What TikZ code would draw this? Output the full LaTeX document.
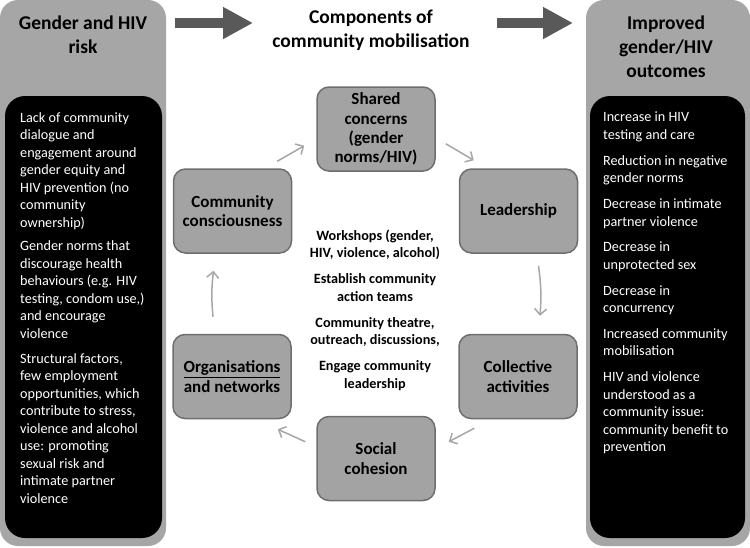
\documentclass[tikz,border=0pt]{standalone}
\usepackage{fontspec}
\setmainfont{Carlito}
\usetikzlibrary{arrows.meta,calc}
\definecolor{colgray}{HTML}{A6A6A6}
\definecolor{stagefill}{HTML}{A3A3A3}
\definecolor{stageline}{HTML}{6E6E6E}
\definecolor{cycgray}{HTML}{A6A6A6}
\definecolor{bigarrow}{HTML}{595959}
\begin{document}
\begin{tikzpicture}[x=1pt,y=-1pt,
  column/.style={fill=colgray, rounded corners=18pt},
  innerbox/.style={fill=black, rounded corners=20pt},
  coltitle/.style={align=center, font=\fontsize{19.5}{24}\selectfont\bfseries, inner sep=0pt,
    execute at begin node=\strut, execute at end node=\strut},
  bodytext/.style={align=left, text=white, font=\fontsize{14.2}{17.5}\selectfont, inner sep=0pt,
    anchor=north west, execute at begin node=\strut, execute at end node=\strut},
  midtext/.style={align=center, font=\fontsize{14.2}{17.5}\selectfont\bfseries, inner sep=0pt,
    anchor=north, execute at begin node=\strut, execute at end node=\strut},
  stage/.style={rectangle, rounded corners=12pt, fill=stagefill, draw=stageline, line width=1.5pt,
    minimum width=118pt, minimum height=84pt, align=center,
    font=\fontsize{17}{19.3}\selectfont\bfseries, inner sep=1pt},
  cyc/.style={draw=cycgray, line width=1.5pt, -{Straight Barb[length=6pt,width=12pt]}},
  bigarr/.style={draw=bigarrow, line width=10pt, -{Triangle[length=30pt,width=30pt]}}
]
\useasboundingbox (0,0) rectangle (750,547);

% side columns
\path[column] (0,0) rectangle (166,546);
\path[column] (586,0) rectangle (750,546);
\path[innerbox] (5,96) rectangle (162,538);
\path[innerbox] (590,96) rectangle (745,538);

% titles
\node[coltitle] (t1) at (83,38) {Gender and HIV\\risk};
\node[coltitle] (t2) at (371,32) {Components of\\community mobilisation};
\node[coltitle] (t3) at (666,50.5) {Improved\\gender/HIV\\outcomes};

% big arrows
\coordinate (a1s) at (175,23);
\coordinate (a1e) at (253,23);
\coordinate (a2s) at (497,23);
\coordinate (a2e) at (573,23);
\draw[bigarr] (a1s) -- (a1e);
\draw[bigarr] (a2s) -- (a2e);

% left text
\node[bodytext] (risks) at (20,112) {Lack of community\\dialogue and\\engagement around\\gender equity and\\HIV prevention (no\\community\\ownership)\\[6pt]Gender norms that\\discourage health\\behaviours (e.g. HIV\\testing, condom use,)\\and encourage\\violence\\[7.5pt]Structural factors,\\few employment\\opportunities, which\\contribute to stress,\\violence and alcohol\\use: promoting\\sexual risk and\\intimate partner\\violence};

% right text
\node[bodytext] (outc) at (603,112) {Increase in HIV\\testing and care\\[8.3pt]Reduction in negative\\gender norms\\[8.3pt]Decrease in intimate\\partner violence\\[8.3pt]Decrease in\\unprotected sex\\[8.3pt]Decrease in\\concurrency\\[8.3pt]Increased community\\mobilisation\\[8.3pt]HIV and violence\\understood as a\\community issue:\\community benefit to\\prevention};

% stages
\node[stage] (sc) at (376,129) {Shared\\concerns\\(gender\\norms/HIV)};
\node[stage] (ld) at (518.5,211) {Leadership};
\node[stage] (ca) at (518,376.5) {Collective\\activities};
\node[stage] (sh) at (376,458.5) {Social\\cohesion};
\node[stage] (on) at (232,376.5) {\underline{Organisations}\\and networks};
\node[stage] (cc) at (232.5,211) {Community\\consciousness};

% middle activities
\node[midtext] (acts) at (375,229.5) {Workshops (gender,\\HIV, violence, alcohol)\\[8.5pt]Establish community\\action teams\\[8.5pt]Community theatre,\\outreach, discussions,\\[8.5pt]Engage community\\leadership};

% cycle arrows
\draw[cyc] ($(cc.north east)+(-15,-7)$) -- ($(sc.south west)+(-12,-26)$);
\draw[cyc] ($(sc.south east)+(10,-28)$) -- ($(ld.north west)+(15,-8)$);
\draw[cyc] ($(ld.south)+(20,12)$) to[bend left=6] ($(ca.north)+(22,-18)$);
\draw[cyc] ($(ca.south west)+(16,9)$) -- ($(sh.north east)+(13,26)$);
\draw[cyc] ($(sh.north west)+(-11,26)$) -- ($(on.south east)+(-14,10)$);
\draw[cyc] ($(on.north)+(-19,-17)$) to[bend left=6] ($(cc.south)+(-19,17)$);
\end{tikzpicture}
\end{document}
